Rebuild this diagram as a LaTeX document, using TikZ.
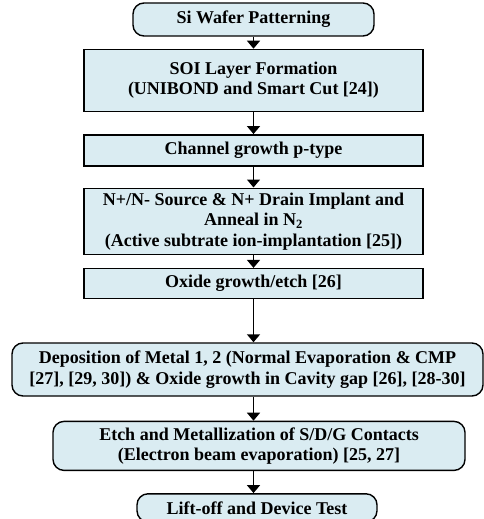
\documentclass[tikz,border=0pt]{standalone}
\usepackage{fontspec}
\setmainfont{Liberation Serif}
\usetikzlibrary{arrows.meta, positioning}

\definecolor{stepfill}{RGB}{218,236,242}

\begin{document}
\begin{tikzpicture}[
    x=1pt, y=1pt,
    stepbox/.style={rectangle, draw, line width=1.4pt, fill=stepfill, align=center,
        font=\fontsize{18}{20.5}\selectfont\bfseries, inner sep=1pt},
    roundbox/.style={stepbox, rounded corners=11pt},
    arrow/.style={-{Triangle[width=13pt,length=8pt]}, line width=1.4pt}
]
\useasboundingbox (0,0) rectangle (484,-519);

% Process steps
\node (wafer) at (253.5,-19.5) [roundbox, minimum width=241pt, minimum height=33pt] {Si Wafer Patterning};
\node (soi) [stepbox, below=12pt of wafer, minimum width=339pt, minimum height=62pt]
    {SOI Layer Formation\\(UNIBOND and Smart Cut [24])};
\node (channel) [stepbox, below=22pt of soi, minimum width=339pt, minimum height=31pt] {Channel growth p-type};
\node (implant) [stepbox, below=21pt of channel, minimum width=339pt, minimum height=66pt]
    {N+/N- Source \& N+ Drain Implant and\\Anneal in N\textsubscript{2}\\(Active subtrate ion-implantation [25])};
\node (oxide) [stepbox, below=13pt of implant, minimum width=339pt, minimum height=30pt] {Oxide growth/etch [26]};
\node (metal) [roundbox, below=43pt of oxide, xshift=-6pt, minimum width=471pt, minimum height=53pt]
    {Deposition of Metal 1, 2 (Normal Evaporation \& CMP\\{}[27], [29, 30]) \& Oxide growth in Cavity gap [26], [28-30]};
\node (contacts) [roundbox, below=24pt of metal, xshift=11.5pt, minimum width=412pt, minimum height=49pt]
    {Etch and Metallization of S/D/G Contacts\\(Electron beam evaporation) [25, 27]};
\node (test) [roundbox, below=22pt of contacts, xshift=-2pt, minimum width=240pt, minimum height=28pt] {Lift-off and Device Test};

% Connections
\draw [arrow] (wafer) -- (soi);
\draw [arrow] (soi) -- (channel);
\draw [arrow] (channel) -- (implant);
\draw [arrow] (implant) -- (oxide);
\draw [arrow] (oxide.south) -- (oxide.south |- metal.north);
\draw [arrow] (oxide.south |- metal.south) -- (oxide.south |- contacts.north);
\draw [arrow] (oxide.south |- contacts.south) -- (oxide.south |- test.north);

\end{tikzpicture}
\end{document}
